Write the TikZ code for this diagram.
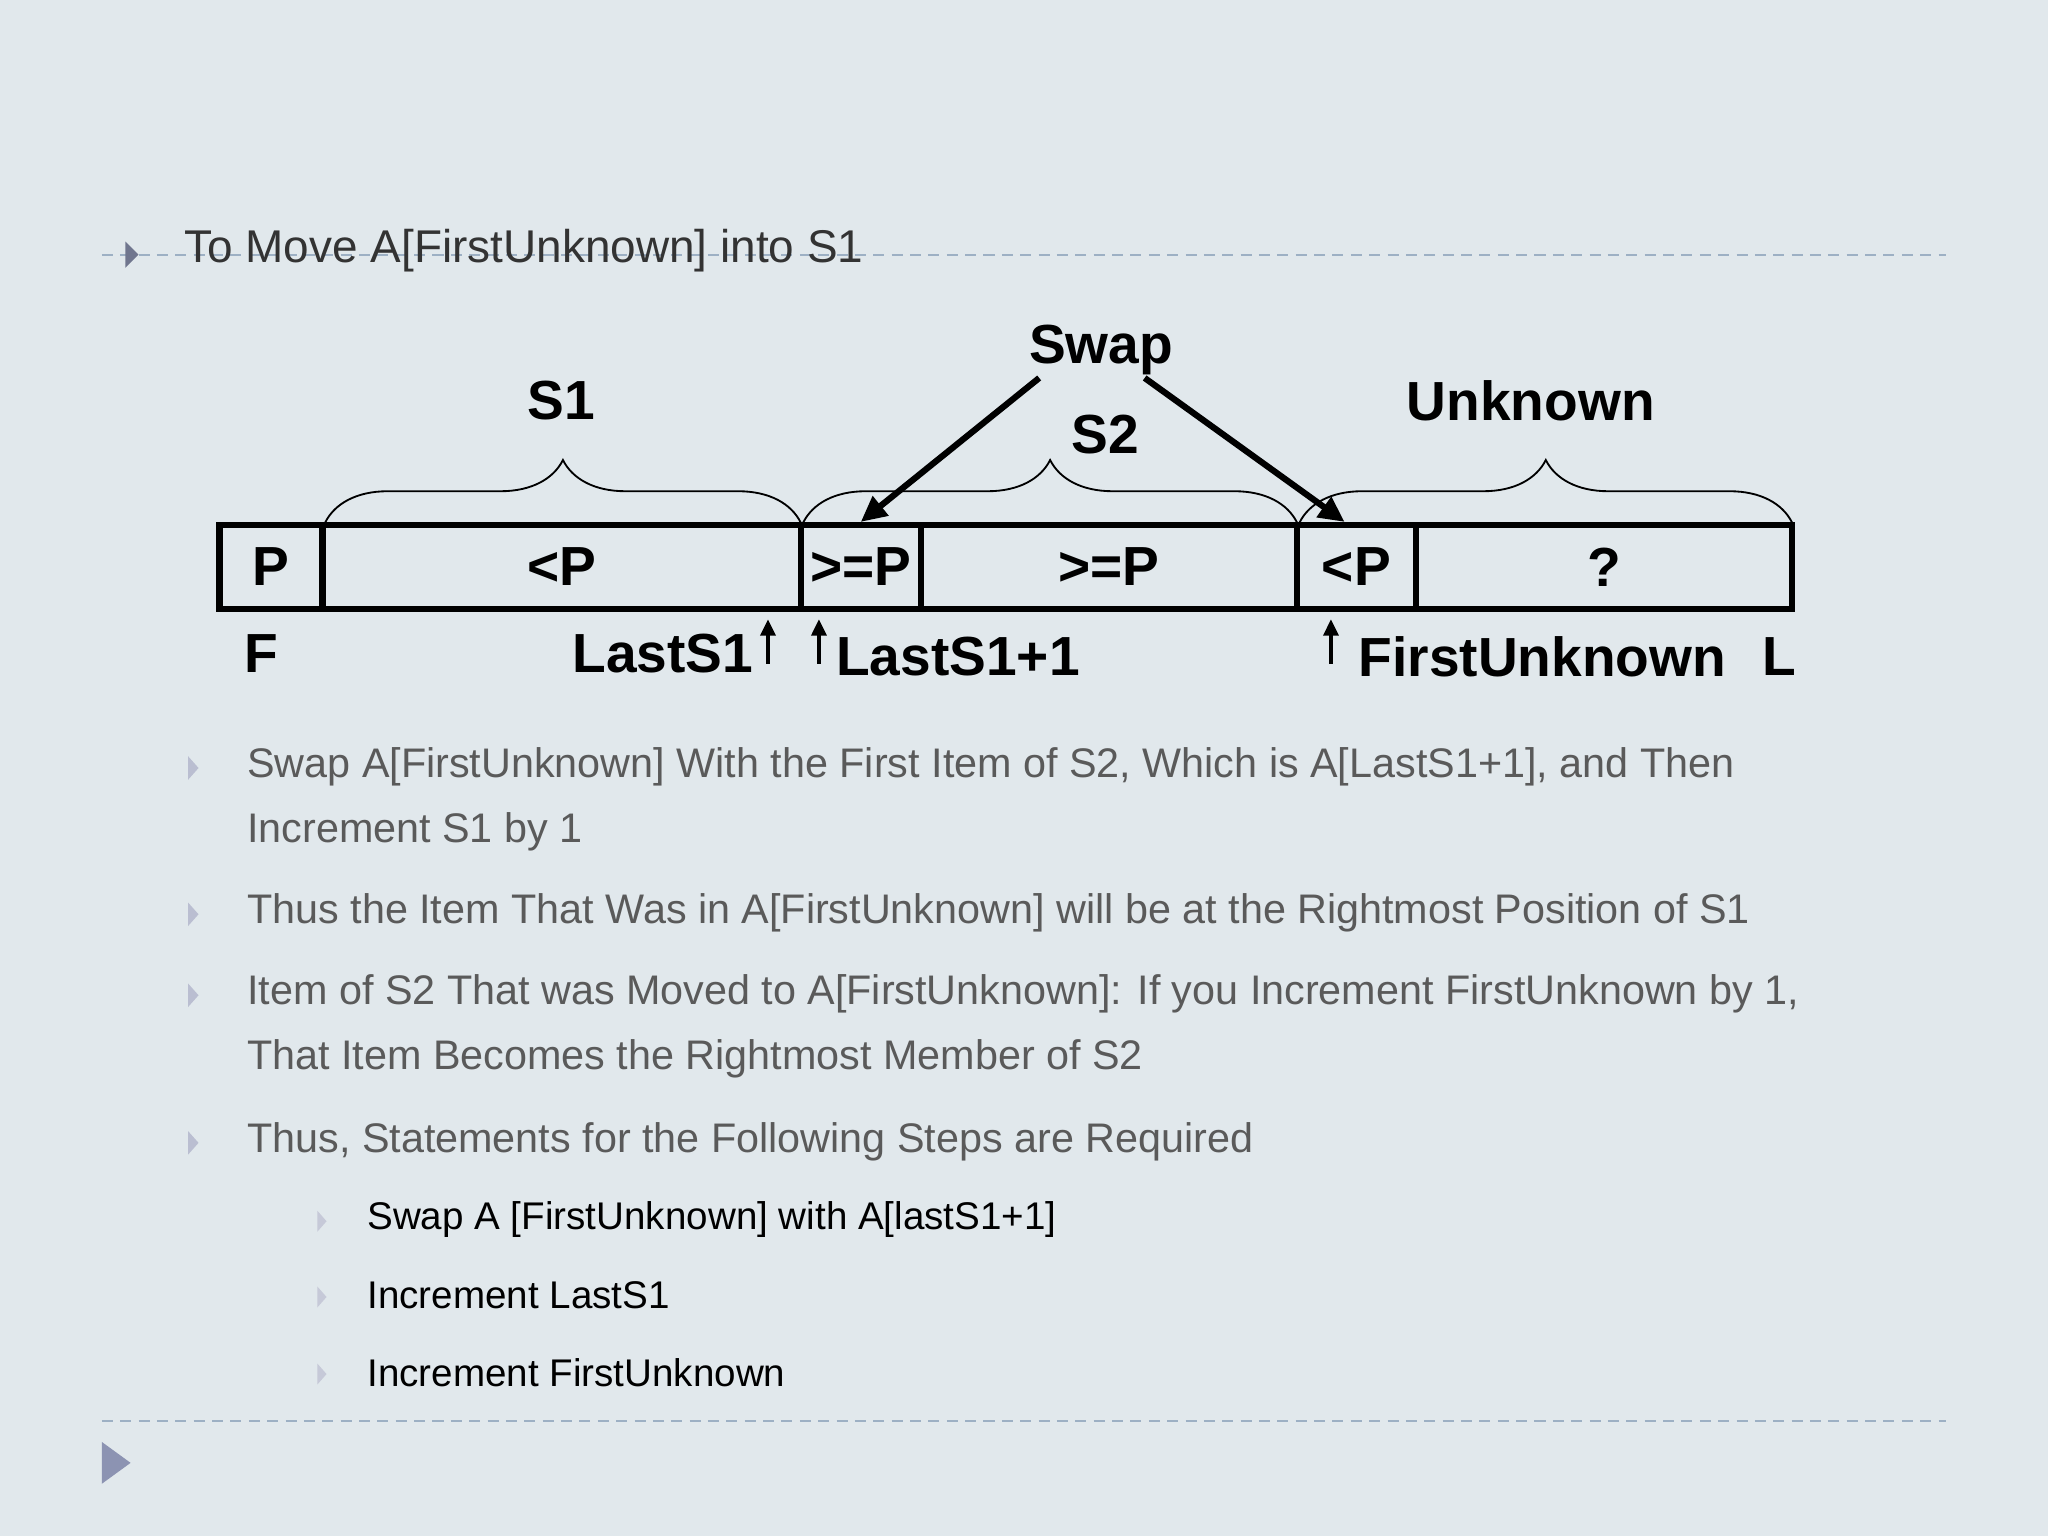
\documentclass[tikz,border=0pt]{standalone}
\usepackage{fontspec}
\setmainfont{Liberation Sans}
\usetikzlibrary{arrows.meta,decorations.pathreplacing}
\definecolor{slidebg}{HTML}{E1E8EC}
\definecolor{bulletc}{HTML}{8C93B2}
\definecolor{bodytxt}{HTML}{5A5A5A}
\definecolor{dashc}{HTML}{9DB0C4}

\begin{document}
\begin{tikzpicture}[x=0.025cm, y=-0.025cm,
    cell/.style={draw, line width=3.4pt, minimum height=64*0.025cm, inner sep=0pt, font=\fontsize{30}{32}\bfseries\selectfont},
    lbl/.style={font=\fontsize{30}{32}\bfseries\selectfont, inner sep=0pt},
    brc/.style={decorate, decoration={brace, amplitude=34pt, aspect=0.5}, line width=1pt},
    swaparrow/.style={-{Triangle[length=14pt,width=13pt]}, line width=3.4pt},
    ptr/.style={-{Triangle[length=9pt,width=8pt]}, line width=2.6pt},
    item/.style={anchor=west, inner sep=0pt, text=bodytxt, font=\fontsize{22.5}{26}\selectfont},
    subitem/.style={anchor=west, inner sep=0pt, text=black, font=\fontsize{21}{25}\selectfont},
    rule/.style={dashc, line width=1pt, dash pattern=on 6pt off 4pt}
  ]
  \fill[slidebg] (0,0) rectangle (1568,1176);
  \useasboundingbox (0,0) rectangle (1568,1176);

  % Dashed rules
  \draw[rule] (78,195) -- (1490,195);
  \draw[rule] (78,1088) -- (1490,1088);
  \fill[bulletc] (78,1104) -- (100,1120) -- (78,1136) -- cycle;

  % Title
  \fill[bulletc!80!black] (96,185) -- (106,195) -- (96,205) -- cycle;
  \node[anchor=west, inner sep=0pt, text=black!80, font=\fontsize{25}{28}\selectfont] (title) at (141,192) {To Move A[FirstUnknown] into S1};

  % Array cells
  \node[cell, minimum width=79*0.025cm] (cP) at (207.5,434) {P};
  \node[cell, minimum width=366*0.025cm] (cS1) at (430,434) {<P};
  \node[cell, minimum width=92*0.025cm] (cFirst) at (659,434) {>=P};
  \node[cell, minimum width=288*0.025cm] (cS2) at (849,434) {>=P};
  \node[cell, minimum width=91*0.025cm] (cNew) at (1038.5,434) {<P};
  \node[cell, minimum width=288*0.025cm] (cUnk) at (1228,434) {?};

  % Braces
  \draw[brc] (249,400) -- (613,400);
  \draw[brc] (615,400) -- (993,400);
  \draw[brc] (995,400) -- (1372,400);
  \node[lbl] (s1) at (430,307) {S1};
  \node[lbl] (s2) at (846,333) {S2};
  \node[lbl] (unk) at (1172,307) {Unknown};
  \node[lbl] (swap) at (843,268) {Swap};

  % Swap arrows
  \draw[swaparrow] (swap.south west) ++(8,2) coordinate (sw1) -- (cFirst.north);
  \draw[swaparrow] (swap.south east) ++(-22,2) coordinate (sw2) -- ([xshift=-9*0.025cm]cNew.north);

  % Index labels
  \node[lbl] (F) at (200,500) {F};
  \node[lbl, anchor=east] (last) at (577,500) {LastS1};
  \node[lbl, anchor=west] (lastp) at (640,503) {LastS1+1};
  \node[lbl, anchor=west] (fu) at (1040,503) {FirstUnknown};
  \node[lbl] (L) at (1362,503) {L};
  \coordinate (pa) at (588,508);
  \coordinate (pb) at (627,508);
  \coordinate (pc) at (1019,508);
  \draw[ptr] (pa) -- ([yshift=-4]pa |- cS1.south);
  \draw[ptr] (pb) -- ([yshift=-4]pb |- cS1.south);
  \draw[ptr] (pc) -- ([yshift=-4]pc |- cS1.south);

  % Bullets
  \foreach \y in {588,700,762,875} \fill[bulletc!60] (144,\y-9) -- (152,\y) -- (144,\y+9) -- cycle;
  \foreach \y in {935,993,1052} \fill[bulletc!50] (243,\y-8) -- (250,\y) -- (243,\y+8) -- cycle;
  \node[item] (b1) at (189,587) {Swap A[FirstUnknown] With the First Item of S2, Which is A[LastS1+1], and Then};
  \node[item] (b1b) at (189,637) {Increment S1 by 1};
  \node[item] (b2) at (189,699) {Thus the Item That Was in A[FirstUnknown] will be at the Rightmost Position of S1};
  \node[item] (b3) at (189,761) {Item of S2 That was Moved to A[FirstUnknown]: If you Increment FirstUnknown by 1,};
  \node[item] (b3b) at (189,811) {That Item Becomes the Rightmost Member of S2};
  \node[item] (b4) at (189,874) {Thus, Statements for the Following Steps are Required};
  \node[subitem] (c1) at (281,934) {Swap A [FirstUnknown] with A[lastS1+1]};
  \node[subitem] (c2) at (281,992) {Increment LastS1};
  \node[subitem] (c3) at (281,1051) {Increment FirstUnknown};
\end{tikzpicture}
\end{document}
